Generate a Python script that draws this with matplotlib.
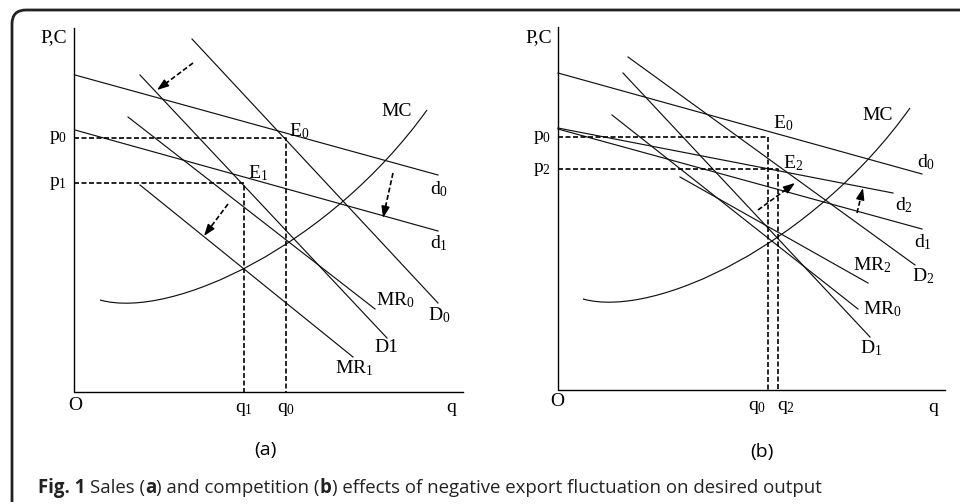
import matplotlib
matplotlib.use('Agg')
import matplotlib.pyplot as plt
from matplotlib.path import Path
from matplotlib.patches import PathPatch

plt.rcParams['mathtext.fontset'] = 'custom'
plt.rcParams['mathtext.rm'] = 'Liberation Serif'
plt.rcParams['mathtext.it'] = 'Liberation Serif'

W, H = 960, 504

# ---- panel (a): lines given as (x0, y0, x1, y1) in picture pixels
a_axes = (74, 28, 463, 392)          # y-axis x, top, x-axis end, x-axis y
a_lines = {
    'd0':  (75, 75, 438, 175),
    'd1':  (75, 130, 438, 231),
    'D0':  (192, 39, 438, 303),
    'D1':  (140, 75, 387, 338),
    'MR0': (128, 117, 375, 309),
    'MR1': (140, 185, 353, 357),
}
a_mc = [(100, 300), (172, 320), (330, 245), (427, 110)]
a_eq = {'p0': (286, 138), 'p1': (244, 183)}
a_arrows = [(193, 63, 157, 90), (393, 173, 383, 218), (228, 204, 204, 236)]
a_labels = [
    ('P,C', 67, 38, 'right'), (r'$\mathrm{p}_0$', 67, 138, 'right'),
    (r'$\mathrm{p}_1$', 67, 183, 'right'), (r'$\mathrm{E}_0$', 289, 131, 'left'),
    (r'$\mathrm{E}_1$', 248, 173, 'left'), ('MC', 381, 112, 'left'),
    (r'$\mathrm{d}_0$', 430, 189, 'left'), (r'$\mathrm{d}_1$', 430, 243, 'left'),
    (r'$\mathrm{MR}_0$', 376, 300, 'left'), (r'$\mathrm{D}_0$', 428, 315, 'left'),
    ('D1', 374, 348, 'left'), (r'$\mathrm{MR}_1$', 335, 368, 'left'),
    ('O', 75, 405, 'center'), (r'$\mathrm{q}_1$', 244, 410, 'center'),
    (r'$\mathrm{q}_0$', 286, 410, 'center'), ('q', 451, 407, 'center'),
]

# ---- panel (b)
b_axes = (558, 27, 945, 390)
b_lines = {
    'd0':  (558, 73, 922, 174),
    'd2':  (558, 128, 893, 193),
    'd1':  (558, 129, 922, 229),
    'D2':  (628, 57, 915, 265),
    'D1':  (623, 73, 870, 337),
    'MR0': (612, 115, 858, 309),
    'MR2': (680, 177, 868, 283),
}
b_mc = [(583, 299), (655, 319), (813, 244), (910, 108)]
b_eq = {'p0': (768, 137), 'p2': (778, 169)}
b_arrows = [(758, 210, 795, 183), (857, 213, 863, 188)]
b_labels = [
    ('P,C', 552, 38, 'right'), (r'$\mathrm{p}_0$', 551, 137, 'right'),
    (r'$\mathrm{p}_2$', 551, 169, 'right'), (r'$\mathrm{E}_0$', 773, 123, 'left'),
    (r'$\mathrm{E}_2$', 783, 163, 'left'), ('MC', 862, 115, 'left'),
    (r'$\mathrm{d}_0$', 917, 162, 'left'), (r'$\mathrm{d}_2$', 895, 205, 'left'),
    (r'$\mathrm{d}_1$', 914, 242, 'left'), (r'$\mathrm{MR}_2$', 853, 265, 'left'),
    (r'$\mathrm{D}_2$', 912, 276, 'left'), (r'$\mathrm{MR}_0$', 863, 309, 'left'),
    (r'$\mathrm{D}_1$', 860, 348, 'left'),
    ('O', 557, 402, 'center'), (r'$\mathrm{q}_0$', 757, 407, 'center'),
    (r'$\mathrm{q}_2$', 786, 407, 'center'), ('q', 933, 407, 'center'),
]

panel_titles = [('(a)', 265, 450), ('(b)', 762, 452)]
caption_pieces = [('Fig. 1 ', 'bold'), ('Sales (', 'normal'), ('a', 'bold'),
                  (') and competition (', 'normal'), ('b', 'bold'),
                  (') effects of negative export fluctuation on desired output', 'normal')]


def draw_panel(ax, axes, lines, mc, eq, arrows, labels):
    x0, top, xend, ybase = axes
    ax.plot([x0, x0, xend], [top, ybase, ybase], color='black', lw=1.0)
    for key, (ax0, ay0, ax1, ay1) in lines.items():
        ax.plot([ax0, ax1], [ay0, ay1], color='#111111', lw=0.85)
    codes = [Path.MOVETO, Path.CURVE4, Path.CURVE4, Path.CURVE4]
    ax.add_patch(PathPatch(Path(mc, codes), fill=False, color='#111111', lw=0.85))
    for key, (ex, ey) in eq.items():
        ax.plot([x0, ex, ex], [ey, ey, ybase], color='black', lw=1.2,
                ls=(0, (3, 1.5)))
    for sx, sy, tx, ty in arrows:
        ax.plot([sx, sx + 0.8 * (tx - sx)], [sy, sy + 0.8 * (ty - sy)],
                color='black', lw=1.2, ls=(0, (3, 1.5)))
        ax.annotate('', xy=(tx, ty), xytext=(sx + 0.7 * (tx - sx), sy + 0.7 * (ty - sy)),
                    arrowprops=dict(arrowstyle='-|>,head_length=0.7,head_width=0.25',
                                    color='black', lw=1.0, shrinkA=0, shrinkB=0))
    for txt, tx, ty, ha in labels:
        ax.text(tx, ty, txt, ha=ha, va='center', fontsize=14,
                family='Liberation Serif')


fig = plt.figure(figsize=(9.6, 5.04), dpi=100)
ax = fig.add_axes([0, 0, 1, 1])
ax.set_xlim(0, W)
ax.set_ylim(H, 0)
ax.axis('off')

# frame with rounded top-left corner
frame = Path([(12, 502), (12, 24), (12, 10), (26, 10), (960, 10)],
             [Path.MOVETO, Path.LINETO, Path.CURVE3, Path.CURVE3, Path.LINETO])
ax.add_patch(PathPatch(frame, fill=False, color='#222222', lw=2.0))

draw_panel(ax, a_axes, a_lines, a_mc, a_eq, a_arrows, a_labels)
draw_panel(ax, b_axes, b_lines, b_mc, b_eq, b_arrows, b_labels)

for txt, tx, ty in panel_titles:
    ax.text(tx, ty, txt, ha='center', va='center', fontsize=14, family='Open Sans')

fig.canvas.draw()
x = 38
for s, w in caption_pieces:
    tt = ax.text(x, 488, s, ha='left', va='center', fontsize=13.4,
                 family='Open Sans', weight=w, color='#222222')
    bb = tt.get_window_extent(renderer=fig.canvas.get_renderer())
    x = ax.transData.inverted().transform((bb.x1, bb.y0))[0]

fig.savefig('out.png', dpi=100)
